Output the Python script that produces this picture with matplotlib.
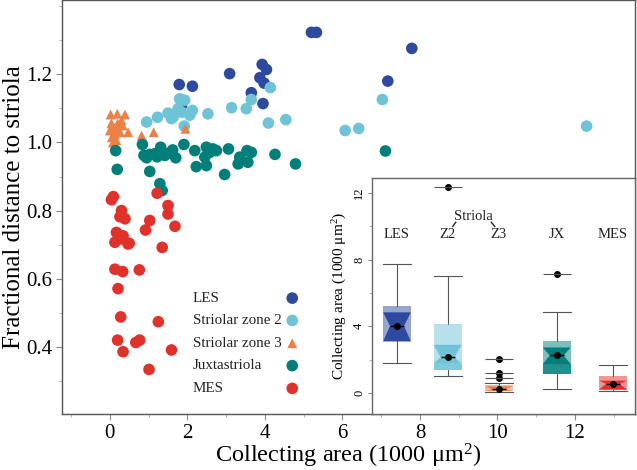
import matplotlib
matplotlib.use('Agg')
import matplotlib.pyplot as plt
from matplotlib.patches import Rectangle, Polygon
from matplotlib.ticker import MultipleLocator
import matplotlib.colors as mcolors

plt.rcParams['font.family'] = ['Liberation Serif', 'DejaVu Serif']
plt.rcParams['mathtext.fontset'] = 'custom'
plt.rcParams['mathtext.rm'] = 'Liberation Serif'
plt.rcParams['mathtext.it'] = 'Liberation Serif:italic'

# ---------------- scatter data ----------------
les_x = [1.79, 2.13, 1.85, 3.09, 3.65, 3.93, 4.04, 3.87, 3.98, 3.95, 5.20, 5.33, 7.79, 7.17]
les_y = [1.170, 1.165, 1.109, 1.202, 1.146, 1.229, 1.214, 1.190, 1.174, 1.114, 1.323, 1.323, 1.276, 1.180]

z2_x = [0.95, 1.23, 1.50, 1.59, 1.80, 1.93, 1.76, 1.85, 2.13, 2.06, 1.92, 2.53, 3.14, 3.52,
        3.65, 4.14, 4.09, 4.54, 7.03, 6.07, 6.42, 12.30, 1.63]
z2_y = [1.060, 1.074, 1.086, 1.070, 1.128, 1.124, 1.099, 1.089, 1.094, 1.080, 1.048, 1.084, 1.102, 1.099,
        1.126, 1.161, 1.057, 1.067, 1.126, 1.035, 1.041, 1.048, 1.074]

z3_x = [0.02, 0.19, 0.39, 0.04, 0.20, 0.33, 0.00, 0.13, 0.26, 0.17, 0.05, 0.10, 0.30, 0.47, 0.82, 1.13, 1.95, 0.22, 0.08]
z3_y = [1.082, 1.084, 1.082, 1.056, 1.056, 1.050, 1.035, 1.025, 1.030, 1.006, 1.015, 1.045, 1.065, 1.030, 1.020, 1.030, 1.040, 1.040, 1.000]

jx_x = [0.15, 0.19, 0.84, 0.88, 1.03, 1.16, 1.31, 1.42, 1.62, 1.70, 1.03, 1.29, 1.35, 1.91, 2.19, 2.23,
        2.49, 2.58, 2.45, 2.49, 2.66, 2.75, 2.96, 3.06, 3.31, 3.35, 3.56, 3.54, 3.65, 4.26, 4.79, 7.11,
        0.95, 1.22, 1.50]
jx_y = [0.976, 0.921, 0.994, 0.962, 0.965, 0.967, 0.986, 0.962, 0.978, 0.955, 0.915, 0.879, 0.859, 0.994, 0.976, 0.929,
        0.986, 0.971, 0.957, 0.932, 0.981, 0.976, 0.906, 0.981, 0.937, 0.957, 0.942, 0.976, 0.971, 0.965, 0.937, 0.975,
        0.955, 0.958, 0.968]

mes_x = [0.09, 0.04, 0.30, 0.26, 0.39, 1.22, 1.50, 1.50, 1.03, 0.92, 1.68, 0.17, 0.13, 0.47, 0.34,
         0.30, 0.50, 1.35, 0.13, 0.33, 0.76, 0.21, 0.28, 1.25, 0.20, 0.34, 0.67, 0.77, 1.59, 1.01]
mes_y = [0.841, 0.832, 0.800, 0.782, 0.776, 0.851, 0.815, 0.790, 0.771, 0.743, 0.754, 0.736, 0.707, 0.702, 0.726,
         0.717, 0.704, 0.692, 0.628, 0.621, 0.626, 0.571, 0.488, 0.474, 0.420, 0.386, 0.413, 0.420, 0.391, 0.334]

series_labels = ['LES', 'Striolar zone 2', 'Striolar zone 3', 'Juxtastriola', 'MES']
colors = ['#2E4A9E', '#6EC4D6', '#EE7F45', '#007F7A', '#E1312B']

# ---------------- box summary data (inset) ----------------
box_labels = ['LES', 'Z2', 'Z3', 'JX', 'MES']
box_pos = [1.0, 1.89, 2.79, 3.81, 4.80]
box_q1 = [3.09, 1.39, 0.10, 1.13, 0.18]
box_q3 = [5.24, 4.13, 0.48, 3.09, 1.02]
box_med = [4.02, 2.15, 0.22, 2.25, 0.54]
box_nlo = [3.09, 1.75, 0.12, 1.73, 0.20]
box_nhi = [4.84, 2.89, 0.40, 2.73, 0.74]
box_wlo = [1.82, 1.02, 0.05, 0.22, 0.12]
box_whi = [7.77, 7.01, 0.62, 4.84, 1.67]
box_fliers = [[], [12.34], [0.88, 1.22, 2.03], [7.17], []]

fig = plt.figure(figsize=(6.37, 4.70), dpi=100)
ax = fig.add_axes([0.097, 0.119, 0.9, 0.881])

xs = [les_x, z2_x, z3_x, jx_x, mes_x]
ys = [les_y, z2_y, z3_y, jx_y, mes_y]
markers = ['o', 'o', '^', 'o', 'o']
sizes = [70, 70, 50, 70, 70]
for x, y, m, s, c, lab in zip(xs, ys, markers, sizes, colors, series_labels):
    ax.scatter(x, y, marker=m, s=s, color=c, edgecolors='none', label=lab, zorder=3)

ax.set_xlim(-1.24, 13.55)
ax.set_ylim(0.203, 1.418)
ax.xaxis.set_major_locator(MultipleLocator(2))
ax.xaxis.set_minor_locator(MultipleLocator(1))
ax.set_yticks([0.4, 0.6, 0.8, 1.0, 1.2])
ax.yaxis.set_minor_locator(MultipleLocator(0.1))
ax.tick_params(axis='both', which='major', direction='out', length=4, width=0.8,
               color='#888888', labelsize=15, pad=3)
ax.tick_params(axis='both', which='minor', direction='out', length=2.5, width=0.6, color='#aaaaaa')
for sp in ax.spines.values():
    sp.set_color('#555555')
    sp.set_linewidth(1.0)
ax.set_xlabel('Collecting area (1000 \u03bcm$^2$)', fontsize=17.5, labelpad=-1)
ax.set_ylabel('Fractional distance to striola', fontsize=18, labelpad=1)

# legend (text left-aligned, marker column to the right)
leg_text_x = 0.228
leg_mark_x = 0.402
leg_rows_y = [0.280, 0.226, 0.171, 0.117, 0.062]
for i in range(5):
    ax.text(leg_text_x, leg_rows_y[i], series_labels[i], transform=ax.transAxes,
            ha='left', va='center', fontsize=10.8, color='#222222')
    ax.scatter([leg_mark_x], [leg_rows_y[i]], transform=ax.transAxes, marker=markers[i],
               s=sizes[i], color=colors[i], edgecolors='none', zorder=3, clip_on=False)

# ---------------- inset ----------------
ins = fig.add_axes([0.584, 0.119, 0.413, 0.502])
ins.set_facecolor('white')
ins.set_xlim(0.56, 5.19)
ins.set_ylim(-1.27, 12.9)
w = 0.49
stats = []
for i in range(5):
    stats.append(dict(med=box_med[i], q1=box_q1[i], q3=box_q3[i], whislo=box_wlo[i],
                      whishi=box_whi[i], fliers=box_fliers[i], label=box_labels[i]))
ins.bxp(stats, positions=box_pos, widths=w, capwidths=w, showbox=False, showcaps=True,
        showfliers=True,
        whiskerprops=dict(color='#555555', lw=0.8),
        capprops=dict(color='#555555', lw=0.8),
        medianprops=dict(linestyle='none'),
        flierprops=dict(marker='o', markersize=4, markerfacecolor='black',
                        markeredgecolor='black'))
hw = w / 2
for i in range(5):
    p = box_pos[i]
    c = colors[i]
    light = mcolors.to_rgba(c, 0.5)
    ins.add_patch(Rectangle((p - hw, box_q1[i]), w, box_q3[i] - box_q1[i],
                            facecolor=light, edgecolor='none', zorder=2))
    if box_nlo[i] > box_q1[i] + 0.1:
        ins.add_patch(Rectangle((p - hw, box_q1[i]), w, box_nlo[i] - box_q1[i],
                                facecolor=mcolors.to_rgba(c, 0.75), edgecolor='none', zorder=2.1))
    poly = [(p - hw, box_nlo[i]), (p + hw, box_nlo[i]), (p + hw * 0.5, box_med[i]),
            (p + hw, box_nhi[i]), (p - hw, box_nhi[i]), (p - hw * 0.5, box_med[i])]
    ins.add_patch(Polygon(poly, closed=True, facecolor=c, edgecolor='none', zorder=2.2))
    ins.hlines(box_med[i], p - hw * 0.5, p + hw * 0.5, color='black', lw=1.0, zorder=3)
    ins.plot([p], [box_med[i]], 'o', color='black', markersize=4, zorder=4)
    for f in box_fliers[i]:
        ins.hlines(f, p - hw, p + hw, color='#555555', lw=0.8, zorder=2)
    ins.text(p, 9.5, box_labels[i], ha='center', va='center', fontsize=10.5, color='#222222')

ins.text((box_pos[1] + box_pos[2]) / 2, 10.6, 'Striola', ha='center', va='center',
         fontsize=10.5, color='#222222')
ins.plot([2.035, 1.98], [10.25, 10.0], color='#222222', lw=1.0)
ins.plot([2.66, 2.72], [10.25, 10.0], color='#222222', lw=1.0)

ins.set_xticks([])
ins.set_yticks([0, 4, 8, 12])
ins.yaxis.set_minor_locator(MultipleLocator(2))
ins.tick_params(axis='y', which='major', direction='out', length=3, color='#888888',
                labelsize=9, pad=2)
ins.tick_params(axis='y', which='minor', direction='out', length=2, color='#aaaaaa')
for lab in ins.get_yticklabels():
    lab.set_rotation(90)
    lab.set_va('center')
for sp in ins.spines.values():
    sp.set_color('#666666')
    sp.set_linewidth(1.0)
ins.set_ylabel('Collecting area (1000 \u03bcm$^2$)', fontsize=11, labelpad=3)

fig.savefig('out.png', dpi=100)
